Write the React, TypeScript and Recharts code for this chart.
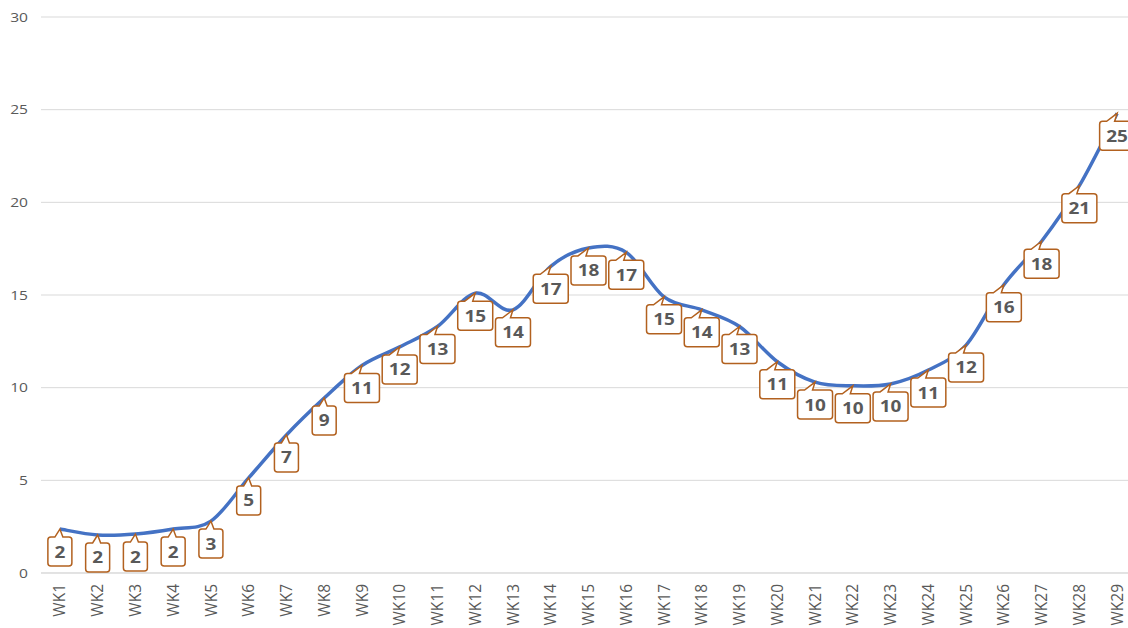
import React from 'react';
import { LineChart, Line, XAxis, YAxis, CartesianGrid, LabelList } from 'recharts';

const weeks: string[] = [
  'WK1', 'WK2', 'WK3', 'WK4', 'WK5', 'WK6', 'WK7', 'WK8', 'WK9', 'WK10',
  'WK11', 'WK12', 'WK13', 'WK14', 'WK15', 'WK16', 'WK17', 'WK18', 'WK19', 'WK20',
  'WK21', 'WK22', 'WK23', 'WK24', 'WK25', 'WK26', 'WK27', 'WK28', 'WK29',
];

const values: number[] = [
  2.37, 2.05, 2.1, 2.37, 2.8, 5.13, 7.45, 9.44, 11.2, 12.2,
  13.3, 15.1, 14.2, 16.55, 17.54, 17.3, 14.9, 14.2, 13.3, 11.4,
  10.3, 10.1, 10.2, 10.95, 12.3, 15.55, 17.9, 20.9, 24.8,
];

const yTicks: number[] = [0, 5, 10, 15, 20, 25, 30];

const data = weeks.map((w, i) => ({ week: w, value: values[i] }));

const TEXT = '#595959';
const BORDER = '#B2611F';
const FONT = '"Open Sans", "Noto Sans", sans-serif';

// Catmull-Rom style smoothing (similar to spreadsheet smoothed lines)
const smoothCurve: any = (context: any) => {
  let pts: [number, number][] = [];
  return {
    areaStart() {},
    areaEnd() {},
    lineStart() {
      pts = [];
    },
    point(x: number, y: number) {
      pts.push([+x, +y]);
    },
    lineEnd() {
      if (!pts.length) return;
      context.moveTo(pts[0][0], pts[0][1]);
      for (let i = 0; i < pts.length - 1; i++) {
        const p0 = pts[i - 1] || pts[i];
        const p1 = pts[i];
        const p2 = pts[i + 1];
        const p3 = pts[i + 2] || p2;
        context.bezierCurveTo(
          p1[0] + (p2[0] - p0[0]) / 6,
          p1[1] + (p2[1] - p0[1]) / 6,
          p2[0] - (p3[0] - p1[0]) / 6,
          p2[1] - (p3[1] - p1[1]) / 6,
          p2[0],
          p2[1]
        );
      }
    },
  };
};

const YTick = (props: any) => {
  const { x, y, payload } = props;
  return (
    <g transform={`translate(${x - 13},${y}) scale(1.2,1)`}>
      <text textAnchor="end" dy="0.35em" fill={TEXT} fontSize={13} fontFamily={FONT}>
        {payload.value}
      </text>
    </g>
  );
};

const XTick = (props: any) => {
  const { x, y, payload } = props;
  return (
    <g transform={`translate(${x},${y + 11}) rotate(-90)`}>
      <text textAnchor="end" dy="0.36em" fill={TEXT} fontSize={15.5} fontFamily={FONT}>
        {payload.value}
      </text>
    </g>
  );
};

const Callout = (props: any) => {
  const { x, y, value } = props;
  if (x == null || y == null) return null;
  const label = String(Math.round(value));
  const w = label.length > 1 ? 35 : 24;
  const h = 29;
  const left = x - w / 2;
  const top = y + 8;
  const right = left + w;
  const bottom = top + h;
  const r = 3;
  const b1 = left + 7;
  const b2 = left + 15;
  const d = [
    `M${left + r},${top}`,
    `L${b1},${top}`,
    `L${x},${y}`,
    `L${b2},${top}`,
    `L${right - r},${top}`,
    `Q${right},${top} ${right},${top + r}`,
    `L${right},${bottom - r}`,
    `Q${right},${bottom} ${right - r},${bottom}`,
    `L${left + r},${bottom}`,
    `Q${left},${bottom} ${left},${bottom - r}`,
    `L${left},${top + r}`,
    `Q${left},${top} ${left + r},${top}`,
    'Z',
  ].join(' ');
  return (
    <g>
      <path d={d} fill="#ffffff" stroke={BORDER} strokeWidth={1.5} />
      <g transform={`translate(${x},${top + h / 2}) scale(1.15,1)`}>
        <text
          textAnchor="middle"
          dy="0.36em"
          fill={TEXT}
          fontSize={16.5}
          fontWeight={700}
          fontFamily={FONT}
        >
          {label}
        </text>
      </g>
    </g>
  );
};

export default function App() {
  return (
    <div
      style={{
        position: 'absolute',
        left: 0,
        top: 0,
        width: 1128,
        height: 628,
        overflow: 'hidden',
        background: '#ffffff',
      }}
    >
      <LineChart
        width={1140}
        height={628}
        data={data}
        margin={{ top: 17, right: 4, bottom: 0, left: 0 }}
      >
        <CartesianGrid vertical={false} stroke="#d9d9d9" strokeWidth={1} />
        <XAxis
          dataKey="week"
          interval={0}
          height={55}
          padding={{ left: 18.88, right: 18.88 }}
          tickLine={false}
          tickSize={0}
          tickMargin={0}
          axisLine={{ stroke: '#d9d9d9' }}
          tick={<XTick />}
        />
        <YAxis
          domain={[0, 30]}
          ticks={yTicks}
          width={41}
          tickLine={false}
          tickSize={0}
          tickMargin={0}
          axisLine={false}
          tick={<YTick />}
        />
        <Line
          dataKey="value"
          type={smoothCurve}
          stroke="#4472C4"
          strokeWidth={3.5}
          dot={false}
          activeDot={false}
          isAnimationActive={false}
        >
          <LabelList dataKey="value" content={<Callout />} />
        </Line>
      </LineChart>
    </div>
  );
}
